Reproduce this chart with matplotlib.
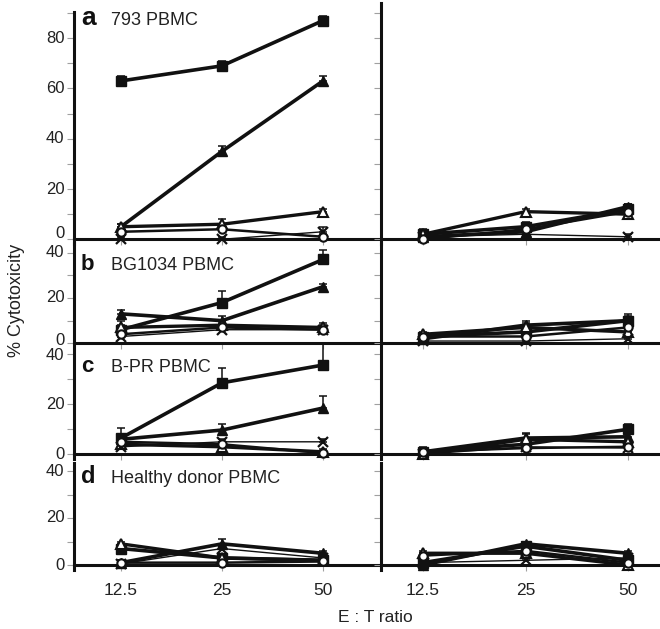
import matplotlib
matplotlib.use("Agg")
import matplotlib.pyplot as plt
import numpy as np

plt.rcParams['font.family'] = ['Liberation Sans', 'DejaVu Sans']

# ---------------- data ----------------
ratios = ["12.5", "25", "50"]
panel_letters = ["a", "b", "c", "d"]
panel_titles = ["793 PBMC", "BG1034 PBMC", "B-PR PBMC", "Healthy donor PBMC"]

# left column (per panel a-d), each: values at 12.5, 25, 50
sq_left = [[63, 69, 87], [6, 18, 37], [6.5, 28.6, 35.7], [7, 3, 2]]
tri_left = [[5, 35, 63], [13, 10, 25], [6, 9.7, 18.5], [1, 9, 5]]
otri_left = [[5, 6, 11], [7, 8, 7], [4, 3, 1], [9, 3, 2]]
cross_left = [[0, 0, 3], [3, 6, 6], [3, 5, 5], [0.5, 7, 3]]
ocirc_left = [[3, 4, 1], [4, 7, 6], [5, 4, 0.5], [1, 1, 1.5]]

sq_left_err = [[2, 2, 2], [4, 5, 4], [4, 6, 9], [2, 1, 1]]
tri_left_err = [[1, 2, 2], [1.5, 2, 1], [1, 2.5, 5], [1, 2, 1]]
otri_left_err = [[1, 2, 1], [1, 1, 2], [1, 2, 1], [1, 1, 2]]
cross_left_err = [[1, 1, 2], [1, 1, 2], [1, 1, 1], [1, 1, 1]]
ocirc_left_err = [[1, 2, 1], [1, 1, 1], [1, 1, 1], [1, 1, 1]]

# right column
sq_right = [[2, 5, 12], [3, 5, 10], [1, 4, 10], [1, 8, 2]]
tri_right = [[1, 3, 13], [2, 8, 10], [1, 6.5, 7], [0, 9, 5]]
otri_right = [[2, 11, 10], [4, 7, 5], [0, 6, 5], [5, 5, 0]]
cross_right = [[1, 2, 1], [1, 1, 2], [0, 3, 2.5], [1, 2, 3]]
ocirc_right = [[0, 4, 11], [3, 3, 7], [1, 2.5, 3], [4, 6, 1]]

sq_right_err = [[2, 2, 2], [1, 2, 3], [2, 2, 2], [1, 2, 1]]
tri_right_err = [[1, 1, 1], [1, 2, 2], [1, 2, 2], [1, 1, 1]]
otri_right_err = [[1, 1, 1], [1, 2, 1], [1, 2, 1], [1, 1, 1]]
cross_right_err = [[1, 1, 1], [1, 1, 1], [1, 1, 1], [1, 1, 1]]
ocirc_right_err = [[1, 1, 1], [1, 1, 1], [1, 1, 1], [1, 1, 1]]

# ---------------- figure ----------------
W, H = 660, 629
fig = plt.figure(figsize=(W / 100, H / 100), dpi=100)

INK = '#111111'
TEXTC = '#222222'
TICKC = '#a0a0a0'

# pixel geometry of the rows: (top left, top right, baseline, px per unit)
rows = [(12, 3, 239.3, 2.514), (243, 243, 343.3, 2.265),
        (351, 351, 454.3, 2.5), (463, 463, 565, 2.35)]
ext = 5  # spine extension below baseline, px

cols = [
    dict(x0=74, x1=381, c0=121, step=101),
    dict(x0=381, x1=660, c0=423, step=102.5),
]

series_left = [
    (sq_left, sq_left_err), (tri_left, tri_left_err), (otri_left, otri_left_err),
    (cross_left, cross_left_err), (ocirc_left, ocirc_left_err)]
series_right = [
    (sq_right, sq_right_err), (tri_right, tri_right_err), (otri_right, otri_right_err),
    (cross_right, cross_right_err), (ocirc_right, ocirc_right_err)]

styles = [
    dict(marker='s', mfc=INK, mec=INK, ms=7, lw=2.6),
    dict(marker='^', mfc=INK, mec=INK, ms=7.5, lw=2.6),
    dict(marker='^', mfc='white', mec=INK, ms=7, lw=2.4, mew=1.5),
    dict(marker='x', mfc=INK, mec=INK, ms=7, lw=1.0, mew=1.6),
    dict(marker='o', mfc='white', mec=INK, ms=6, lw=1.8, mew=1.5),
]

xs = np.arange(len(ratios))
TICK_FS = 12
# vertical nudges (points) for crowded y labels: (row, value) -> offset
label_nudge = {(0, 0): 4.5, (1, 0): 2.0, (2, 40): -1.0}

for r, (tl, tr, base, sc) in enumerate(rows):
    for c, col in enumerate(cols):
        top = tl if c == 0 else tr
        left = col['x0'] / W
        width = (col['x1'] - col['x0']) / W
        bottom_px = base + ext
        ax = fig.add_axes([left, 1 - bottom_px / H, width, (bottom_px - top) / H])
        ax.set_xlim((col['x0'] - col['c0']) / col['step'], (col['x1'] - col['c0']) / col['step'])
        ax.set_ylim(-ext / sc, (base - top) / sc)
        ax.patch.set_alpha(0)
        for s in ['top', 'right']:
            ax.spines[s].set_visible(False)
        ax.spines['bottom'].set_position(('data', 0))
        ax.spines['bottom'].set_linewidth(2.2)
        ax.spines['left'].set_linewidth(2.2)
        ax.spines['bottom'].set_color(INK)
        ax.spines['left'].set_color(INK)

        ymax = (base - top) / sc
        yt = np.arange(0, ymax + 0.01, 10)
        ax.set_yticks(yt)
        ax.set_yticklabels([])
        if c == 0:
            for v in yt:
                if int(v) % 20 != 0:
                    continue
                dy = label_nudge.get((r, int(v)), 0.0)
                ax.annotate(f"{int(v)}", xy=(0, v), xycoords=('axes fraction', 'data'),
                            xytext=(-7, dy), textcoords='offset points',
                            ha='right', va='center', fontsize=TICK_FS, color=TEXTC)
        ax.tick_params(axis='y', direction='out', length=5, width=0.8, color=TICKC)
        ax.set_xticks(xs)
        if r == 3:
            ax.set_xticklabels(ratios)
        else:
            ax.set_xticklabels([])
        ax.tick_params(axis='x', direction='out', length=4, width=0.8, color=TICKC,
                       labelsize=12.5, labelcolor=TEXTC, pad=9)

        series = series_left if c == 0 else series_right
        for (vals, errs), st in zip(series, styles):
            y = vals[r]
            e = errs[r]
            ax.errorbar(xs, y, yerr=[np.zeros(3), e], fmt='none', ecolor=INK,
                        elinewidth=1.1, capsize=3, capthick=1.1, clip_on=False, zorder=2)
            ax.plot(xs, y, color=INK, linewidth=st['lw'], marker=st['marker'],
                    markerfacecolor=st['mfc'], markeredgecolor=st['mec'],
                    markersize=st['ms'], markeredgewidth=st.get('mew', 1.0),
                    clip_on=False, zorder=3)

# panel labels
label_base = [25, 270, 372, 483]
letter_sizes = [19, 16, 16, 17]
for letter, title, yb, fs in zip(panel_letters, panel_titles, label_base, letter_sizes):
    fig.text(81 / W, 1 - yb / H, letter, fontsize=fs, fontweight='bold',
             color=INK, va='baseline', ha='left')
    fig.text(111 / W, 1 - yb / H, title, fontsize=13, color=TEXTC,
             va='baseline', ha='left')

fig.text(17 / W, 1 - 300 / H, "% Cytotoxicity", rotation=90, fontsize=13,
         color=TEXTC, va='center', ha='center')
fig.text(375 / W, 1 - 618 / H, "E : T ratio", fontsize=12.5, color=TEXTC,
         va='center', ha='center')

fig.savefig("out.png", dpi=100)
